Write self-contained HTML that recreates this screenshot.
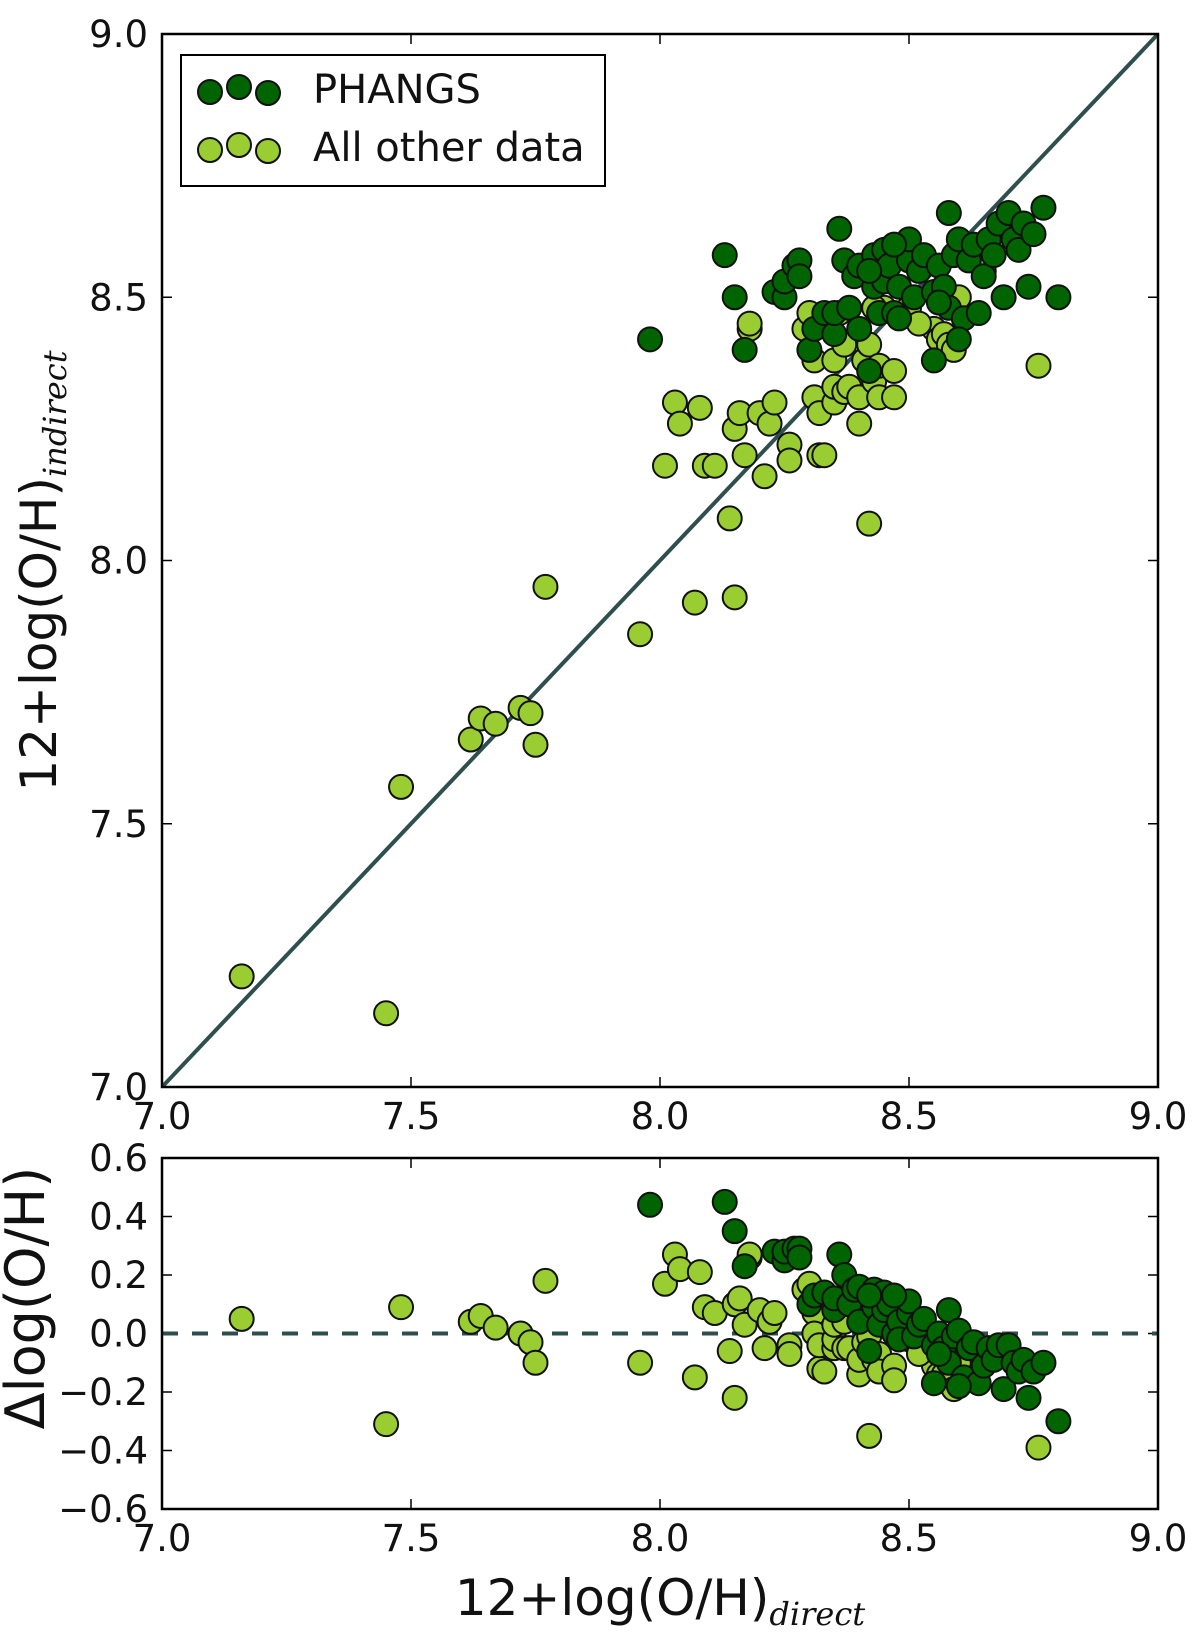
<!DOCTYPE html>
<html><head><meta charset="utf-8"><style>
html,body{margin:0;padding:0;background:#fff}
svg{display:block}
text{font-family:"DejaVu Sans","Liberation Sans",sans-serif;fill:#111}
</style></head><body>
<svg id="chart" width="1200" height="1640" xmlns="http://www.w3.org/2000/svg"></svg>
<script>
const otherDirect=[7.16,7.45,7.48,7.62,7.64,7.67,7.72,7.74,7.75,7.77,7.96,8.01,8.03,8.04,8.07,8.08,8.09,8.11,8.14,8.15,8.15,8.16,8.17,8.18,8.18,8.20,8.21,8.22,8.23,8.26,8.26,8.29,8.30,8.31,8.31,8.32,8.32,8.33,8.35,8.35,8.35,8.37,8.37,8.38,8.40,8.40,8.41,8.42,8.42,8.43,8.44,8.44,8.45,8.47,8.47,8.48,8.50,8.55,8.56,8.57,8.58,8.59,8.60,8.65,8.76,8.43,8.36,8.52];
const otherIndirect=[7.21,7.14,7.57,7.66,7.70,7.69,7.72,7.71,7.65,7.95,7.86,8.18,8.30,8.26,7.92,8.29,8.18,8.18,8.08,7.93,8.25,8.28,8.20,8.44,8.45,8.28,8.16,8.26,8.30,8.22,8.19,8.44,8.47,8.38,8.31,8.20,8.28,8.20,8.30,8.33,8.38,8.32,8.41,8.33,8.26,8.31,8.38,8.41,8.07,8.34,8.37,8.31,8.48,8.36,8.31,8.46,8.48,8.44,8.42,8.43,8.41,8.40,8.50,8.55,8.37,8.48,8.47,8.45];
const phangsDirect=[7.98,8.13,8.15,8.17,8.23,8.25,8.25,8.27,8.28,8.28,8.30,8.31,8.33,8.35,8.35,8.36,8.37,8.38,8.39,8.40,8.40,8.42,8.43,8.43,8.44,8.45,8.45,8.46,8.47,8.48,8.48,8.50,8.50,8.51,8.52,8.53,8.55,8.55,8.56,8.57,8.58,8.58,8.59,8.60,8.61,8.62,8.63,8.64,8.65,8.66,8.67,8.68,8.69,8.70,8.71,8.72,8.73,8.74,8.75,8.77,8.80,8.56,8.47,8.42,8.60];
const phangsIndirect=[8.42,8.58,8.50,8.40,8.51,8.50,8.53,8.56,8.57,8.54,8.40,8.44,8.47,8.43,8.47,8.63,8.57,8.48,8.54,8.56,8.44,8.36,8.52,8.58,8.47,8.53,8.59,8.56,8.47,8.52,8.46,8.57,8.61,8.50,8.55,8.58,8.38,8.51,8.56,8.52,8.66,8.48,8.58,8.61,8.46,8.57,8.60,8.47,8.54,8.61,8.58,8.64,8.50,8.66,8.61,8.59,8.64,8.52,8.62,8.67,8.50,8.49,8.60,8.55,8.42];
const xTicks=["7.0","7.5","8.0","8.5","9.0"];
const yTicksTop=["7.0","7.5","8.0","8.5","9.0"];
const yTicksBottom=["−0.6","−0.4","−0.2","0.0","0.2","0.4","0.6"];

const NS="http://www.w3.org/2000/svg";
const svg=document.getElementById('chart');
const L=162,R=1158,T1=34,B1=1087,T2=1158,B2=1509;
const xs=v=>L+(v-7)/2*(R-L);
const ys1=v=>B1-(v-7)/2*(B1-T1);
const ys2=v=>B2-(v+0.6)/1.2*(B2-T2);
function mk(tag,attrs,parent){const e=document.createElementNS(NS,tag);for(const k in attrs)e.setAttribute(k,attrs[k]);(parent||svg).appendChild(e);return e;}
const DARK="#006400",LIGHT="#9acd32",LINE="#2f4f4f";

function panel(name,top,bot,yLabels,yFn){
  const g=mk('g',{});
  
  
  xTicks.forEach(t=>{const x=xs(parseFloat(t));
    mk('line',{x1:x,x2:x,y1:bot,y2:bot-10,stroke:'#000','stroke-width':1.5},g);
    mk('line',{x1:x,x2:x,y1:top,y2:top+10,stroke:'#000','stroke-width':1.5},g);
    const tx=mk('text',{x:x,y:bot+42,'font-size':37,'text-anchor':'middle'},g);tx.textContent=t;
    });
  yLabels.forEach(t=>{const y=yFn(parseFloat(t.replace('−','-')));
    mk('line',{x1:L,x2:L+10,y1:y,y2:y,stroke:'#000','stroke-width':1.5},g);
    mk('line',{x1:R,x2:R-10,y1:y,y2:y,stroke:'#000','stroke-width':1.5},g);
    const tx=mk('text',{x:L-14,y:y+13,'font-size':37,'text-anchor':'end'},g);tx.textContent=t;
    });
  return g;
}
const gTop=panel('top-panel',T1,B1,yTicksTop,ys1);
const gBot=panel('bottom-panel',T2,B2,yTicksBottom,ys2);

const defs=mk('defs',{});
const c1=mk('clipPath',{id:'c1'},defs);mk('rect',{x:L,y:T1,width:R-L,height:B1-T1},c1);
const c2=mk('clipPath',{id:'c2'},defs);mk('rect',{x:L,y:T2,width:R-L,height:B2-T2},c2);

const oneToOne=mk('line',{x1:xs(7),y1:ys1(7),x2:xs(9),y2:ys1(9),stroke:LINE,'stroke-width':4,'clip-path':'url(#c1)'});


const zero=mk('line',{x1:L,x2:R,y1:ys2(0),y2:ys2(0),stroke:LINE,'stroke-width':4,'stroke-dasharray':'16,14'});



function scatter(dx,dy,color,nm){
  const g1=mk('g',{'clip-path':'url(#c1)'});
  
  
  const g2=mk('g',{'clip-path':'url(#c2)'});
  
  
  dx.forEach((x,i)=>{
    const a=mk('circle',{cx:xs(x),cy:ys1(dy[i]),r:12,fill:color,stroke:'#111','stroke-width':2},g1);
    
    
    const b=mk('circle',{cx:xs(x),cy:ys2(dy[i]-x),r:12,fill:color,stroke:'#111','stroke-width':2},g2);
    
    
  });
}
scatter(otherDirect,otherIndirect,LIGHT,'other');
scatter(phangsDirect,phangsIndirect,DARK,'phangs');

mk('rect',{x:L,y:T1,width:R-L,height:B1-T1,fill:'none',stroke:'#000','stroke-width':2.5});
mk('rect',{x:L,y:T2,width:R-L,height:B2-T2,fill:'none',stroke:'#000','stroke-width':2.5});

const lg=mk('g',{});


mk('rect',{x:181,y:55,width:424,height:131,fill:'#fff',stroke:'#000','stroke-width':2},lg);
[[DARK,89,'PHANGS'],[LIGHT,147,'All other data']].forEach(([c,y,t])=>{
  [[210,y+3],[239,y-2],[268,y+4]].forEach(([x,yy])=>mk('circle',{cx:x,cy:yy,r:12,fill:c,stroke:'#111','stroke-width':2},lg));
  const tx=mk('text',{x:313,y:y+14,'font-size':40},lg);tx.textContent=t;
  
});

const yt=mk('text',{x:0,y:0,'font-size':50,'text-anchor':'middle',transform:'translate(56,571) rotate(-90)'});


yt.innerHTML='12+log(O/H)<tspan font-style="italic" font-family="DejaVu Serif, serif" font-size="32" dy="10">indirect</tspan>';
const yb=mk('text',{x:0,y:0,'font-size':54,'text-anchor':'middle',transform:'translate(44,1298) rotate(-90)'});


yb.textContent='Δlog(O/H)';
const xt=mk('text',{x:660,y:1615,'font-size':50,'text-anchor':'middle'});


xt.innerHTML='12+log(O/H)<tspan font-style="italic" font-family="DejaVu Serif, serif" font-size="32" dy="10">direct</tspan>';
</script>
</body></html>
